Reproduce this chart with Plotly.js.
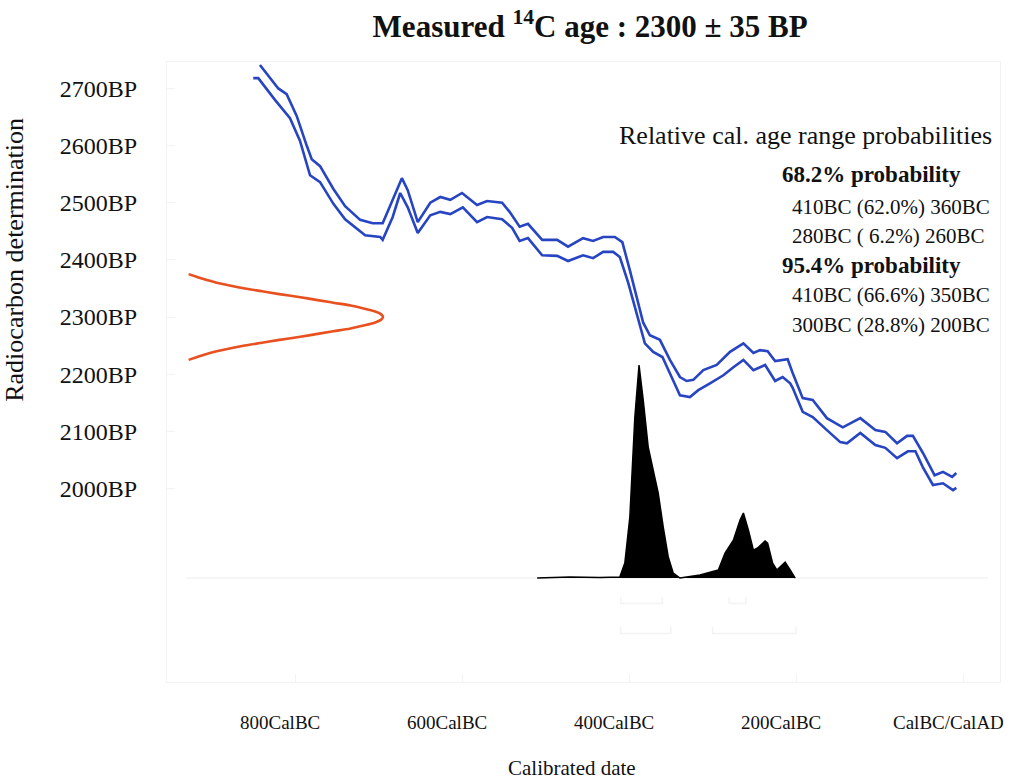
<!DOCTYPE html>
<html>
<head>
<meta charset="utf-8">
<script src="https://cdn.plot.ly/plotly-3.0.1.min.js"></script>
<style>
  html, body { margin: 0; padding: 0; background: #ffffff; }
  #chart { width: 1025px; height: 780px; }
</style>
</head>
<body>
<div id="chart"></div>
<script>
// Calibration curve, upper envelope (calendar year, negative = BC; radiocarbon age BP)
const upperYear = [-842,-820,-810,-798,-786,-780,-770,-754,-740,-722,-707,-695,-683,-672,-665,-653,-638,-626,-614,-600,
  -582,-570,-552,-543,-531,-521,-504,-486,-473,-455,-443,-431,-417,-408,-399,-390,-383,-375,-363,-351,
  -339,-331,-323,-311,-295,-279,-263,-251,-243,-234,-225,-210,-204,-192,-180,-163,-144,-123,-105,-93,
  -79,-67,-60,-48,-34,-24,-13,-8];
const upperBP = [2741,2700,2690,2652,2600,2576,2564,2524,2494,2470,2464,2464,2505,2543,2522,2466,2500,2510,2505,2517,
  2496,2503,2500,2484,2458,2463,2435,2435,2423,2438,2433,2440,2440,2431,2382,2330,2290,2268,2260,2225,
  2195,2188,2190,2207,2216,2239,2254,2237,2242,2240,2223,2226,2202,2158,2155,2123,2107,2123,2102,2099,
  2079,2092,2092,2062,2023,2029,2020,2027];

// Calibration curve, lower envelope
const lowerYear = [-850,-844,-824,-812,-806,-794,-782,-770,-754,-740,-716,-698,-695,-683,-674,-665,-653,-638,-626,-614,
  -599,-582,-570,-552,-540,-531,-521,-504,-486,-473,-455,-443,-431,-419,-411,-401,-390,-381,-371,-360,
  -349,-339,-327,-317,-303,-287,-275,-263,-251,-237,-225,-216,-207,-204,-192,-180,-163,-147,-139,-123,
  -105,-93,-79,-66,-57,-48,-36,-24,-12,-8];
const lowerBP = [2718,2718,2680,2660,2648,2608,2548,2536,2498,2471,2443,2440,2435,2475,2517,2492,2447,2478,2484,2480,
  2492,2466,2475,2471,2456,2433,2438,2408,2407,2398,2408,2403,2414,2414,2405,2360,2300,2254,2239,2230,
  2195,2163,2160,2172,2184,2198,2212,2225,2207,2216,2188,2195,2184,2176,2134,2125,2102,2081,2079,2097,
  2076,2071,2053,2065,2065,2037,2006,2009,1997,2001];

// Measured radiocarbon age distribution (BP, relative density)
const measBP = [2225,2230,2235,2240,2245,2250,2255,2260,2265,2270,2275,2280,2285,2290,2295,2300,
  2305,2310,2315,2320,2325,2330,2335,2340,2345,2350,2355,2360,2365,2370,2375];
const measDensity = [0.10,0.14,0.18,0.23,0.29,0.36,0.44,0.52,0.61,0.69,0.77,0.85,0.91,0.96,0.99,1.00,
  0.99,0.96,0.91,0.85,0.77,0.69,0.61,0.52,0.44,0.36,0.29,0.23,0.18,0.14,0.10];

// Calibrated date probability (calendar year, relative probability)
const calYear = [-510,-471,-435,-411,-405,-399,-393,-388,-383,-377,-371,-365,-359,-353,-347,-339,
  -315,-307,-293,-285,-275,-267,-263,-257,-251,-246,-237,-234,-228,-223,-213,-207,-201];
const calProb = [0,0.005,0.003,0.005,0.07,0.286,0.756,1.0,0.836,0.615,0.507,0.399,0.239,0.099,0.023,0,
  0.014,0.023,0.038,0.117,0.178,0.272,0.305,0.225,0.131,0.141,0.174,0.164,0.07,0.038,0.075,0.038,0];

// Highest probability ranges
const range68From = [-410, -280];
const range68To   = [-360, -260];
const range95From = [-410, -300];
const range95To   = [-350, -200];

// Axis ticks
const bpTicks = [2000,2100,2200,2300,2400,2500,2600,2700];
const bpTickText = ['2000BP','2100BP','2200BP','2300BP','2400BP','2500BP','2600BP','2700BP'];
const yearTicks = [-800,-600,-400,-200,0];
const yearTickText = ['800CalBC','600CalBC','400CalBC','200CalBC','CalBC/CalAD'];

// Text block
const rangeHeading = 'Relative cal. age range probabilities';
const rangeLines = [
  {text: '<b>68.2% probability</b>', indent: 0},
  {text: '410BC (62.0%) 360BC', indent: 1},
  {text: '280BC ( 6.2%) 260BC', indent: 1},
  {text: '<b>95.4% probability</b>', indent: 0},
  {text: '410BC (66.6%) 350BC', indent: 1},
  {text: '300BC (28.8%) 200BC', indent: 1}
];

const serif = 'Liberation Serif, Times New Roman, serif';
const blue = '#2744c2';
const faint = '#f3f3f3';

const traces = [
  {x: upperYear, y: upperBP, type: 'scatter', mode: 'lines',
   line: {color: blue, width: 2.6}, xaxis: 'x', yaxis: 'y', hoverinfo: 'skip'},
  {x: lowerYear, y: lowerBP, type: 'scatter', mode: 'lines',
   line: {color: blue, width: 2.6}, xaxis: 'x', yaxis: 'y', hoverinfo: 'skip'},
  {x: measDensity, y: measBP, type: 'scatter', mode: 'lines',
   line: {color: '#e8501f', width: 2.6, shape: 'spline'}, xaxis: 'x2', yaxis: 'y', hoverinfo: 'skip'},
  {x: calYear, y: calProb, type: 'scatter', mode: 'lines', fill: 'tozeroy',
   fillcolor: '#000000', line: {color: '#000000', width: 1.5}, xaxis: 'x', yaxis: 'y2', hoverinfo: 'skip'}
];

// Range bars below the distribution
function rangeBars(from, to, level) {
  for (let i = 0; i < from.length; i++) {
    traces.push({
      x: [from[i], from[i], to[i], to[i]],
      y: [level + 0.03, level, level, level + 0.03],
      type: 'scatter', mode: 'lines', line: {color: faint, width: 1.5},
      xaxis: 'x', yaxis: 'y2', hoverinfo: 'skip'
    });
  }
}
rangeBars(range68From, range68To, -0.12);
rangeBars(range95From, range95To, -0.26);

const annotations = [];

// Calendar tick labels
yearTicks.forEach((v, i) => {
  annotations.push({
    x: v, xref: 'x', y: -0.065, yref: 'paper', xshift: -15,
    text: yearTickText[i], showarrow: false, xanchor: 'center', yanchor: 'middle',
    font: {family: serif, size: 19, color: '#111111'}
  });
});

// Axis titles
annotations.push({
  x: 0.486, xref: 'paper', y: -0.139, yref: 'paper',
  text: 'Calibrated date', showarrow: false, xanchor: 'center', yanchor: 'middle',
  font: {family: serif, size: 21, color: '#111111'}
});
annotations.push({
  x: -0.1825, xref: 'paper', y: 0.681, yref: 'paper', textangle: -90,
  text: 'Radiocarbon determination', showarrow: false, xanchor: 'center', yanchor: 'middle',
  font: {family: serif, size: 26, color: '#111111'}
});

// Range probability block
annotations.push({
  x: 0.54, xref: 'paper', y: 0.882, yref: 'paper',
  text: rangeHeading, showarrow: false, xanchor: 'left', yanchor: 'middle',
  font: {family: serif, size: 26, color: '#111111'}
});
const lineY = [0.818, 0.766, 0.719, 0.671, 0.624, 0.576];
rangeLines.forEach((ln, i) => {
  annotations.push({
    x: ln.indent ? 0.748 : 0.736, xref: 'paper', y: lineY[i], yref: 'paper',
    text: ln.text, showarrow: false, xanchor: 'left', yanchor: 'middle',
    font: {family: serif, size: ln.indent ? 21 : 23, color: '#111111'}
  });
});

const layout = {
  width: 1025, height: 780,
  margin: {l: 167, r: 25, t: 62, b: 98},
  paper_bgcolor: '#ffffff', plot_bgcolor: '#ffffff',
  showlegend: false,
  title: {
    text: '<b>Measured <sup>14</sup>C age : 2300 ± 35 BP</b>',
    x: 0.508, xref: 'paper', xanchor: 'center',
    y: 0.966, yref: 'container', yanchor: 'middle',
    font: {family: serif, size: 31, color: '#111111'}
  },
  xaxis: {
    range: [-953.3, 44.3], tickvals: yearTicks, showticklabels: false,
    ticks: 'inside', ticklen: 8, tickcolor: faint,
    showline: true, linecolor: faint, mirror: true, showgrid: false, zeroline: false
  },
  yaxis: {
    range: [1661.25, 2746.25], tickvals: bpTicks, ticktext: bpTickText,
    ticks: 'inside', ticklen: 8, tickcolor: faint, ticklabelstandoff: 24,
    tickfont: {family: serif, size: 24, color: '#111111'},
    showline: true, linecolor: faint, mirror: true, showgrid: false, zeroline: false
  },
  xaxis2: {range: [0, 3.856], overlaying: 'x', side: 'top', visible: false},
  yaxis2: {range: [-0.488, 2.4225], overlaying: 'y', side: 'right', visible: false},
  shapes: [
    {type: 'line', xref: 'x', yref: 'y2', x0: -930, x1: 30, y0: 0, y1: 0,
     line: {color: faint, width: 1.5}, layer: 'below'}
  ],
  annotations: annotations
};

Plotly.newPlot('chart', traces, layout, {staticPlot: true, displayModeBar: false});
</script>
</body>
</html>
